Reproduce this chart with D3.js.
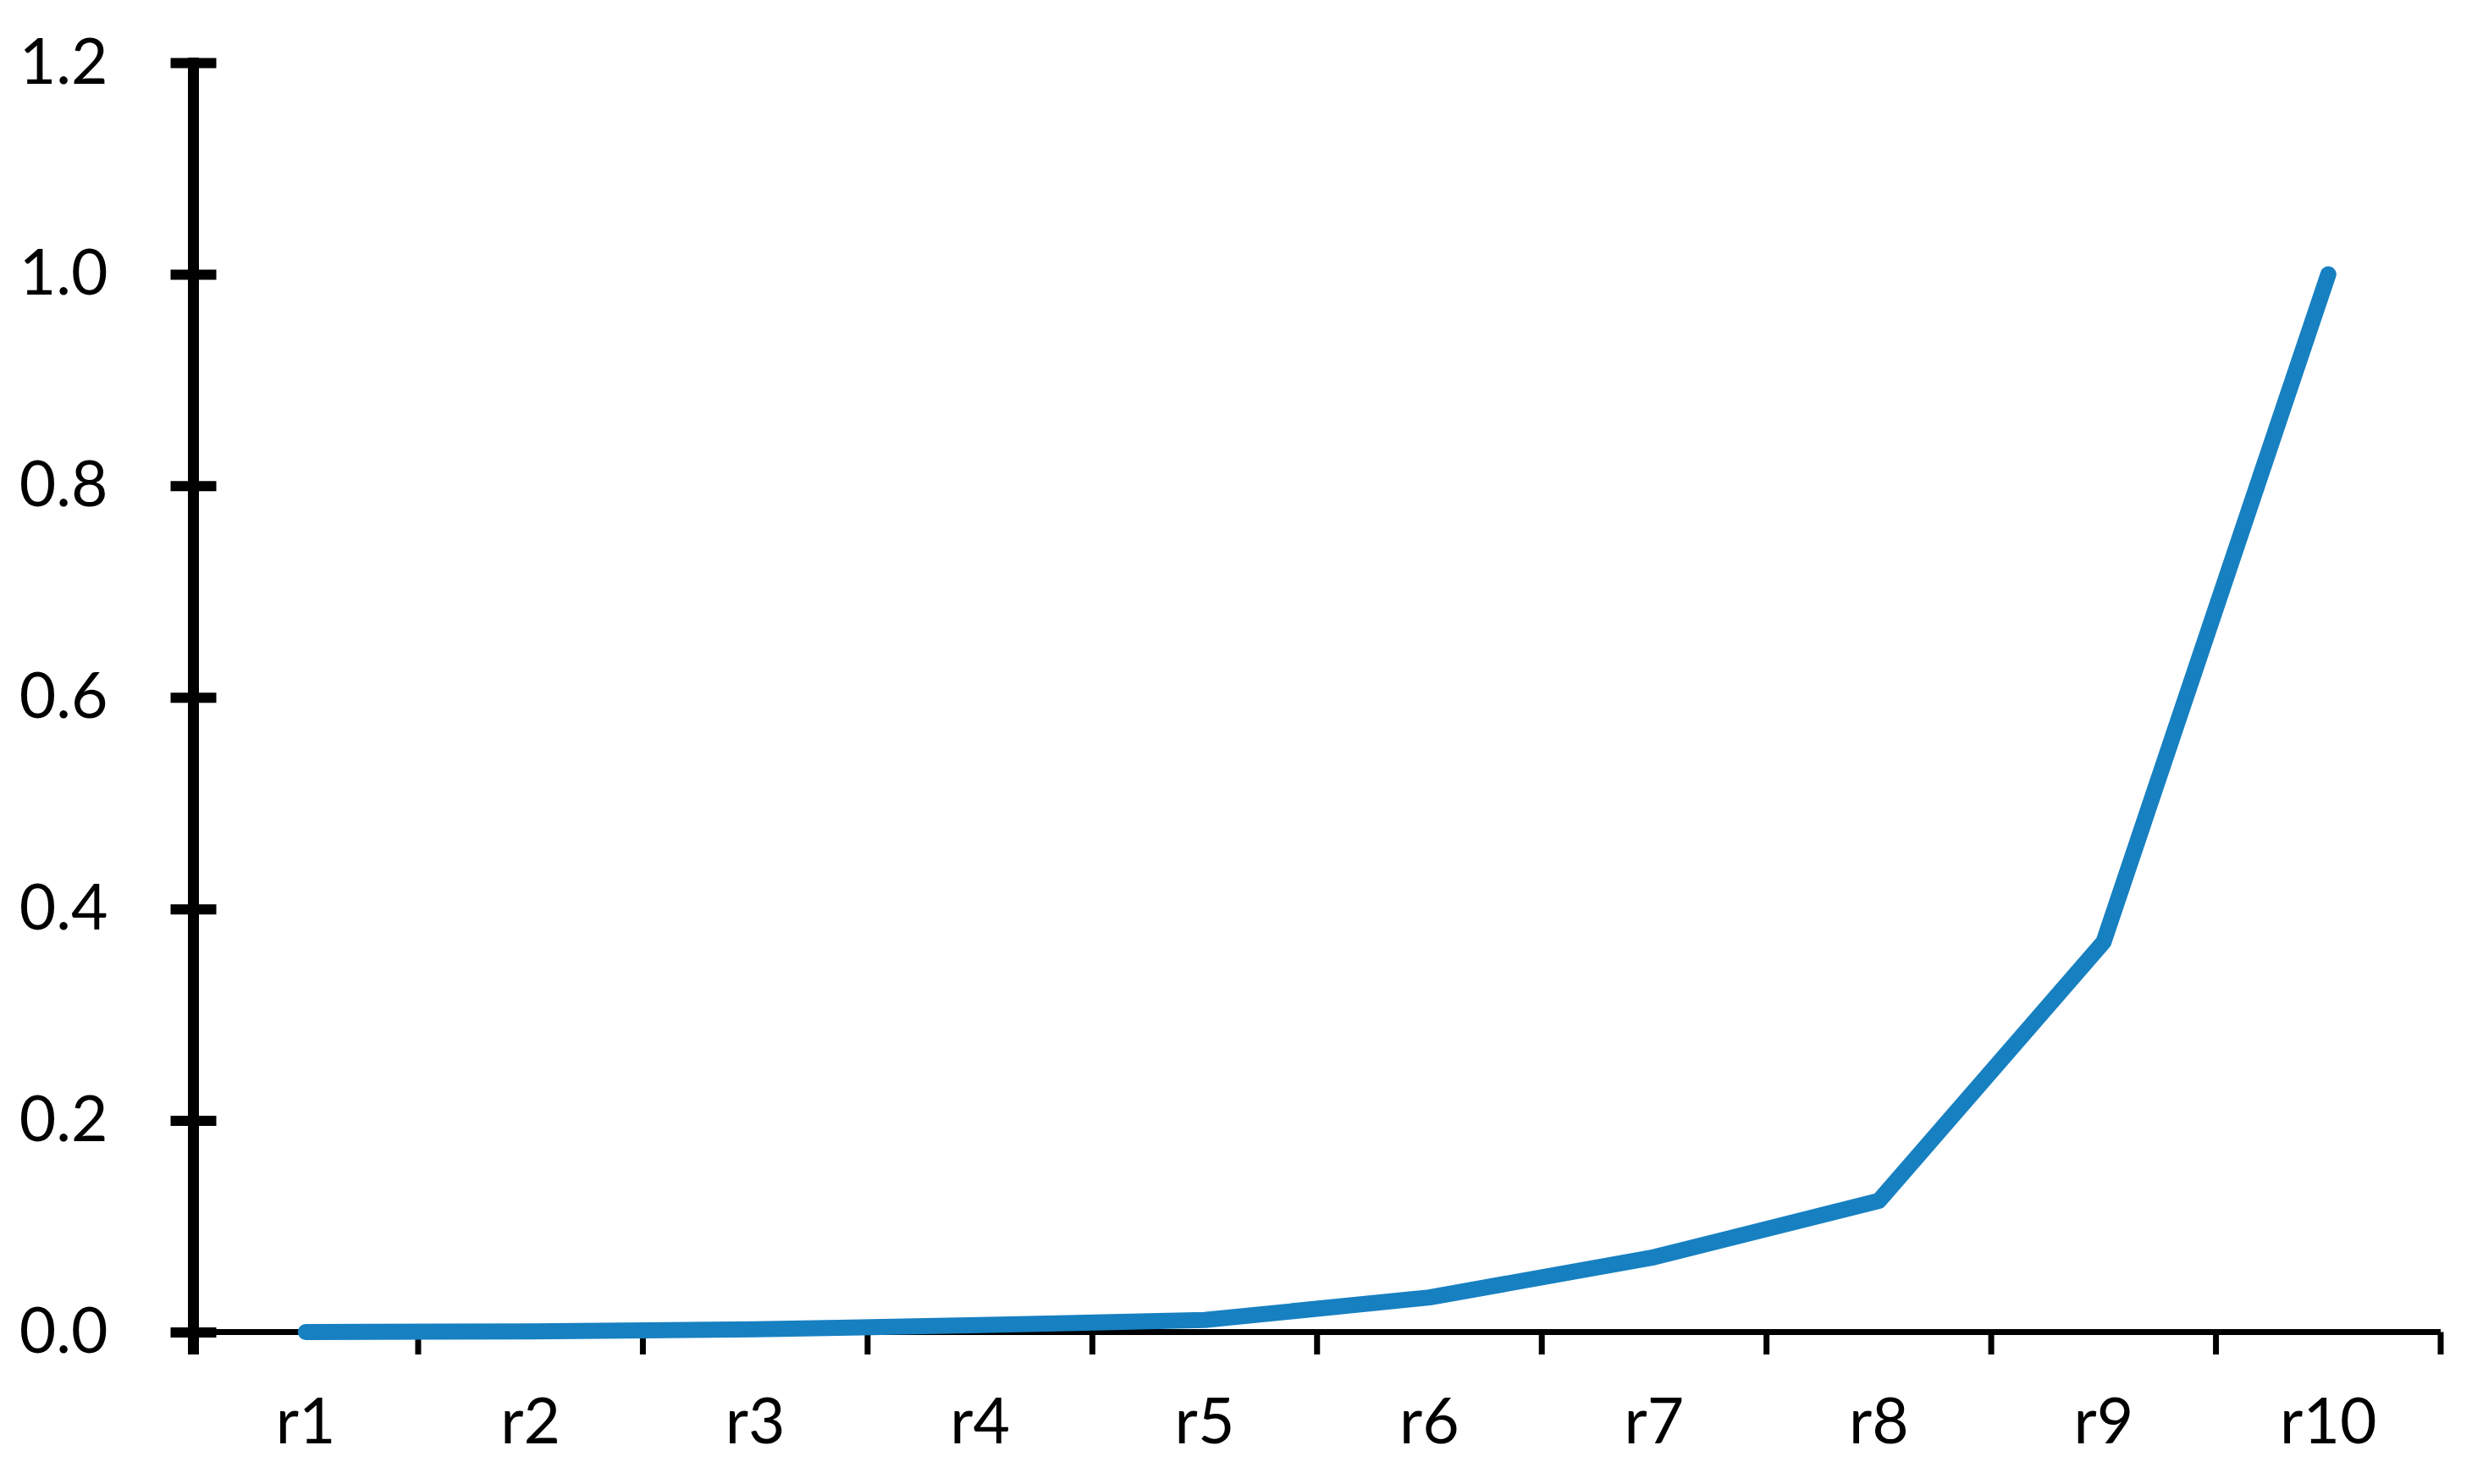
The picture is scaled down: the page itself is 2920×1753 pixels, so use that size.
<!DOCTYPE html>
<html lang="en">

<head>
    <meta charset="UTF-8">
    <title>Line</title>
    <style>
        body { margin: 0; background: #fff; }
        svg text { font-family: Lato, "Open Sans", sans-serif; font-size: 75px; fill: #000; }
    </style>
</head>

<body>
    <svg width="2920" height="1753"></svg>
    <script src="https://d3js.org/d3.v7.min.js"></script>
    <script>

        let categories = ["r1", "r2", "r3", "r4", "r5", "r6", "r7", "r8", "r9", "r10"],
            values = [0, 0.0006, 0.0026, 0.0066, 0.0114, 0.0327, 0.0708, 0.124, 0.3687, 1.0],
            yTicks = [0, 0.2, 0.4, 0.6, 0.8, 1.0, 1.2];

        let svg = d3.select("svg"),
            plotLeft = 228.5, plotRight = 2883,
            plotTop = 74, plotBottom = 1573.5;

        let x = d3.scaleBand().domain(categories).range([plotLeft, plotRight]).padding(0),
            y = d3.scaleLinear().domain([0, 1.2]).range([plotBottom, plotTop]);

        // y axis: thick line, ticks crossing the line
        let yAxis = svg.append("g")
            .attr("transform", "translate(" + plotLeft + ",0)")
            .call(d3.axisLeft(y).tickValues(yTicks).tickFormat(d3.format(".1f")).tickSize(27).tickPadding(74));
        yAxis.select(".domain").remove();
        yAxis.selectAll(".tick line")
            .attr("x1", -27).attr("x2", 27)
            .attr("stroke", "#000").attr("stroke-width", 12);
        yAxis.selectAll("text").attr("font-family", null).attr("font-size", null);

        // x axis labels at band centres
        let xAxis = svg.append("g")
            .attr("transform", "translate(0," + plotBottom + ")")
            .call(d3.axisBottom(x).tickSize(0).tickPadding(78));
        xAxis.select(".domain").remove();
        xAxis.selectAll("text").attr("font-family", null).attr("font-size", null);

        // x axis line and boundary ticks
        svg.append("line")
            .attr("x1", plotLeft).attr("x2", plotRight)
            .attr("y1", plotBottom).attr("y2", plotBottom)
            .attr("stroke", "#000").attr("stroke-width", 7);

        let edges = d3.range(categories.length + 1).map(i => x.range()[0] + i * x.step());
        svg.selectAll(".xtick")
            .data(edges.slice(1))
            .join("line")
            .attr("class", "xtick")
            .attr("x1", d => d).attr("x2", d => d)
            .attr("y1", plotBottom).attr("y2", plotBottom + 26.5)
            .attr("stroke", "#000").attr("stroke-width", 7);

        svg.append("line")
            .attr("x1", plotLeft).attr("x2", plotLeft)
            .attr("y1", y(1.2) - 6).attr("y2", plotBottom + 26.5)
            .attr("stroke", "#000").attr("stroke-width", 13);

        // the series
        let line = d3.line()
            .x((d, i) => x(categories[i]) + x.bandwidth() / 2)
            .y(d => y(d));

        svg.append("path")
            .datum(values)
            .attr("d", line)
            .attr("fill", "none")
            .attr("stroke", "#1780c1")
            .attr("stroke-width", 19)
            .attr("stroke-linecap", "round")
            .attr("stroke-linejoin", "round");

    </script>
</body>

</html>
